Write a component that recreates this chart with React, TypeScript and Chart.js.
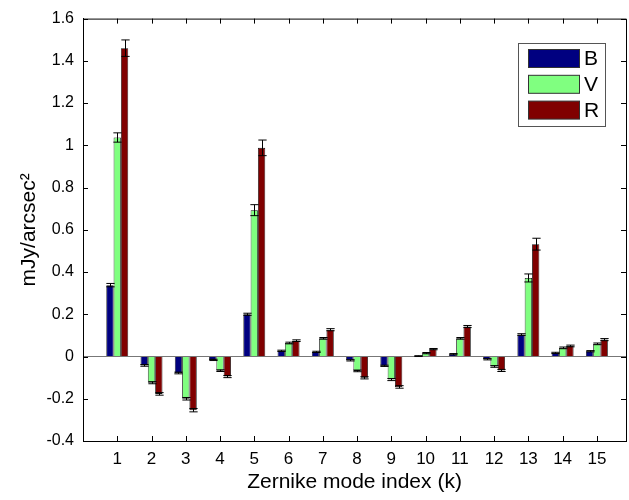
import React, { useEffect, useRef } from "react";
import { Chart, registerables } from "chart.js";

Chart.register(...registerables);

const categories = ["1", "2", "3", "4", "5", "6", "7", "8", "9", "10", "11", "12", "13", "14", "15"];
const seriesNames = ["B", "V", "R"];
const seriesColors = ["#000080", "#80FF80", "#800000"];

const valuesB = [0.338, -0.042, -0.078, -0.016, 0.2, 0.027, 0.022, -0.018, -0.044, 0.002, 0.011, -0.013, 0.104, 0.017, 0.025];
const valuesV = [1.037, -0.124, -0.2, -0.067, 0.693, 0.064, 0.086, -0.068, -0.109, 0.016, 0.086, -0.047, 0.372, 0.041, 0.06];
const valuesR = [1.46, -0.177, -0.254, -0.095, 0.988, 0.075, 0.127, -0.101, -0.144, 0.035, 0.142, -0.066, 0.532, 0.05, 0.08];

const errorsB = [0.008, 0.004, 0.004, 0.003, 0.005, 0.003, 0.003, 0.003, 0.003, 0.002, 0.003, 0.003, 0.004, 0.003, 0.003];
const errorsV = [0.022, 0.005, 0.006, 0.004, 0.026, 0.004, 0.004, 0.004, 0.005, 0.003, 0.004, 0.004, 0.019, 0.004, 0.004];
const errorsR = [0.039, 0.006, 0.008, 0.005, 0.037, 0.004, 0.005, 0.005, 0.006, 0.003, 0.005, 0.005, 0.028, 0.004, 0.005];

const yTicks = [-0.4, -0.2, 0, 0.2, 0.4, 0.6, 0.8, 1, 1.2, 1.4, 1.6];

const FONT = "'Liberation Sans', Arial, sans-serif";

const allValues = [valuesB, valuesV, valuesR];
const allErrors = [errorsB, errorsV, errorsR];

const extrasPlugin = {
  id: "extras",
  afterDatasetsDraw(chart: any) {
    const ctx = chart.ctx;
    const xs = chart.scales.x;
    const ys = chart.scales.y;
    const area = chart.chartArea;
    ctx.save();
    // error bars
    ctx.strokeStyle = "#000";
    ctx.lineWidth = 1;
    allValues.forEach((vals, i) => {
      const meta = chart.getDatasetMeta(i);
      meta.data.forEach((el: any, j: number) => {
        const v = vals[j];
        const e = allErrors[i][j];
        const x = Math.round(el.x) + 0.5;
        const y1 = ys.getPixelForValue(v + e);
        const y2 = ys.getPixelForValue(v - e);
        const hw = el.width / 2 + 0.5;
        ctx.beginPath();
        ctx.moveTo(x, y1);
        ctx.lineTo(x, y2);
        ctx.moveTo(x - hw, y1);
        ctx.lineTo(x + hw, y1);
        ctx.moveTo(x - hw, y2);
        ctx.lineTo(x + hw, y2);
        ctx.stroke();
      });
    });
    // box top/right
    ctx.strokeStyle = "#000";
    ctx.lineWidth = 1;
    ctx.beginPath();
    ctx.moveTo(area.left, area.top + 0.5);
    ctx.lineTo(area.right + 0.5, area.top + 0.5);
    ctx.lineTo(area.right + 0.5, area.bottom);
    ctx.stroke();
    // inner ticks
    const tl = 5;
    ctx.beginPath();
    yTicks.forEach((t) => {
      const y = Math.round(ys.getPixelForValue(t)) + 0.5;
      ctx.moveTo(area.left, y);
      ctx.lineTo(area.left + tl, y);
      ctx.moveTo(area.right, y);
      ctx.lineTo(area.right - tl, y);
    });
    categories.forEach((c, i) => {
      const x = Math.round(xs.getPixelForValue(i + 1)) + 0.5;
      ctx.moveTo(x, area.bottom);
      ctx.lineTo(x, area.bottom - tl);
      ctx.moveTo(x, area.top);
      ctx.lineTo(x, area.top + tl);
    });
    ctx.stroke();
    // legend
    const bx = 518.5, by = 43.5, bw = 87, bh = 83;
    ctx.fillStyle = "#fff";
    ctx.fillRect(bx, by, bw, bh);
    ctx.strokeStyle = "#555";
    ctx.strokeRect(bx, by, bw, bh);
    ctx.font = `21px ${FONT}`;
    ctx.textBaseline = "middle";
    ctx.textAlign = "left";
    seriesNames.forEach((name, i) => {
      const cy = 58.5 + i * 25.8;
      ctx.fillStyle = seriesColors[i];
      ctx.fillRect(528.5, cy - 9, 51, 18);
      ctx.strokeStyle = "#333";
      ctx.strokeRect(528.5, cy - 9, 51, 18);
      ctx.fillStyle = "#000";
      ctx.fillText(chart.data.datasets[i].label, 584, cy + 1);
    });
    ctx.restore();
  },
};

export default function App() {
  const ref = useRef<HTMLCanvasElement>(null);
  useEffect(() => {
    if (!ref.current) return;
    const chart = new Chart(ref.current, {
      type: "bar",
      data: {
        datasets: allValues.map((vals, i) => ({
          label: seriesNames[i],
          data: vals.map((v, j) => ({ x: j + 1, y: v })),
          backgroundColor: seriesColors[i],
          borderColor: "#111",
          borderWidth: 0.8,
          categoryPercentage: 0.64,
          barPercentage: 1.0,
        })),
      },
      options: {
        responsive: false,
        animation: false,
        layout: { padding: { top: 15, right: 3, left: 0, bottom: 0 } },
        plugins: { legend: { display: false }, tooltip: { enabled: false } },
        scales: {
          x: {
            type: "linear",
            min: 0,
            max: 15.85,
            offset: false,
            afterFit: (s: any) => { s.height = 59; },
            afterBuildTicks: (s: any) => {
              s.ticks = categories.map((c, i) => ({ value: i + 1 }));
            },
            ticks: {
              autoSkip: false,
              maxRotation: 0,
              padding: 8,
              color: "#000",
              font: { family: FONT, size: 17 },
              callback: (v: any) => {
                const idx = Math.round(Number(v)) - 1;
                return categories[idx] ?? "";
              },
            },
            grid: { display: false, drawTicks: false, offset: false },
            border: { display: true, color: "#000", width: 1 },
            title: {
              display: true,
              text: "Zernike mode index (k)",
              color: "#000",
              font: { family: FONT, size: 21 },
              padding: { top: 0, bottom: 5 },
            },
          },
          y: {
            min: -0.4,
            max: 1.6,
            afterFit: (s: any) => { s.width = 83; },
            afterBuildTicks: (s: any) => {
              s.ticks = yTicks.map((t) => ({ value: t }));
            },
            ticks: {
              padding: 9,
              color: "#000",
              font: { family: FONT, size: 16 },
              callback: (v: any) => String(Math.round(Number(v) * 10) / 10),
            },
            grid: {
              drawTicks: false,
              color: (c: any) => (c.tick && Math.abs(c.tick.value) < 1e-9 ? "#777" : "rgba(0,0,0,0)"),
              lineWidth: 1,
            },
            border: { display: true, color: "#000", width: 1 },
            title: {
              display: true,
              text: "mJy/arcsec²",
              color: "#000",
              font: { family: FONT, size: 21 },
              padding: { top: 17, bottom: 0 },
            },
          },
        },
      },
      plugins: [extrasPlugin],
    });
    return () => chart.destroy();
  }, []);
  return (
    <div style={{ position: "absolute", left: 0, top: 0, width: 629, height: 500, background: "#fff" }}>
      <canvas ref={ref} width={629} height={500} />
    </div>
  );
}
